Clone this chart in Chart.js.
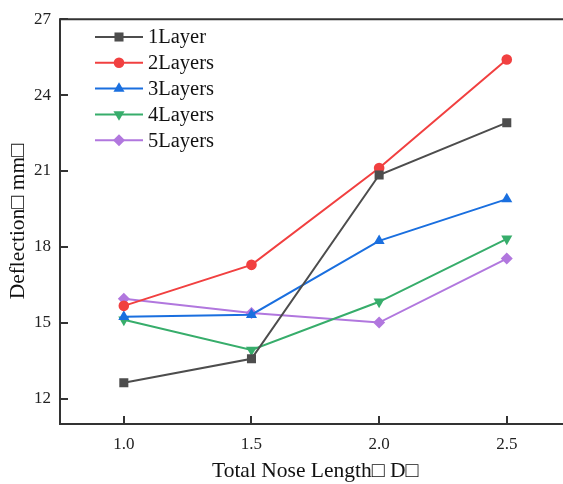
<!DOCTYPE html>
<html><head><meta charset="utf-8">
<script src="https://cdn.jsdelivr.net/npm/chart.js@4"></script>
<style>
html,body{margin:0;padding:0;background:#fff;overflow:hidden;}
#wrap{width:577px;height:484px;position:relative;}
canvas{display:block;}
</style></head><body>
<div id="wrap"><canvas id="c" width="577" height="484"></canvas></div>
<script>
const xValues = [1.0, 1.5, 2.0, 2.5];
const layer1 = [12.63, 13.58, 20.84, 22.91];
const layer2 = [15.67, 17.29, 21.12, 25.41];
const layer3 = [15.24, 15.32, 18.24, 19.89];
const layer4 = [15.12, 13.93, 15.83, 18.32];
const layer5 = [15.95, 15.39, 15.01, 17.54];
const seriesNames = ['1Layer', '2Layers', '3Layers', '4Layers', '5Layers'];
const xTicks = [1.0, 1.5, 2.0, 2.5];
const yTicks = [12, 15, 18, 21, 24, 27];
const xTitle = 'Total Nose Length\u25A1 D\u25A1';
const yTitle = 'Deflection\u25A1 mm\u25A1';

const colors = ['#4d4d4d', '#f14040', '#1a6fdf', '#37ad6b', '#b177de'];
const styles = [
  {pointStyle: 'rect', radius: 6.4, rotation: 0},
  {pointStyle: 'circle', radius: 5.3, rotation: 0},
  {pointStyle: 'triangle', radius: 6.4, rotation: 0},
  {pointStyle: 'triangle', radius: 6.4, rotation: 180},
  {pointStyle: 'rectRot', radius: 6, rotation: 0}
];
const allSeries = [layer1, layer2, layer3, layer4, layer5];
const serif = "'Liberation Serif', 'Times New Roman', serif";

const datasets = allSeries.map((vals, i) => ({
  label: seriesNames[i],
  data: vals.map((v, j) => ({x: xValues[j], y: v})),
  borderColor: colors[i],
  backgroundColor: colors[i],
  borderWidth: 2,
  pointStyle: styles[i].pointStyle,
  pointRadius: styles[i].radius,
  pointRotation: styles[i].rotation,
  pointBorderWidth: 0,
  pointHoverRadius: styles[i].radius,
  tension: 0,
  fill: false
}));

function drawMarker(ctx, st, x, y) {
  if (Chart.helpers && Chart.helpers.drawPoint) {
    Chart.helpers.drawPoint(ctx, {pointStyle: st.pointStyle, radius: st.radius, rotation: st.rotation, borderWidth: 0}, x, y);
    return;
  }
  ctx.beginPath();
  ctx.arc(x, y, st.radius, 0, Math.PI * 2);
  ctx.fill();
}

const framePlugin = {
  id: 'frame',
  afterDraw(chart) {
    const {ctx, chartArea: a, scales: {x, y}} = chart;
    ctx.save();
    ctx.strokeStyle = '#333';
    ctx.lineWidth = 2;
    ctx.beginPath();
    ctx.rect(a.left, a.top, a.right - a.left, a.bottom - a.top);
    ctx.stroke();
    ctx.beginPath();
    xTicks.forEach(v => {
      const px = Math.round(x.getPixelForValue(v));
      ctx.moveTo(px, a.bottom);
      ctx.lineTo(px, a.bottom - 8);
    });
    yTicks.forEach(v => {
      const py = Math.round(y.getPixelForValue(v));
      ctx.moveTo(a.left, py);
      ctx.lineTo(a.left + 8, py);
    });
    ctx.stroke();
    ctx.restore();

    ctx.save();
    ctx.font = '20.5px ' + serif;
    ctx.textBaseline = 'middle';
    ctx.textAlign = 'left';
    chart.data.datasets.forEach((ds, i) => {
      const yy = 37 + i * 25.8;
      ctx.strokeStyle = ds.borderColor;
      ctx.fillStyle = ds.backgroundColor;
      ctx.lineWidth = 2;
      ctx.beginPath();
      ctx.moveTo(95, yy);
      ctx.lineTo(143, yy);
      ctx.stroke();
      drawMarker(ctx, styles[i], 119, yy);
      ctx.fillStyle = '#111';
      ctx.fillText(ds.label, 148, yy + 1);
    });
    ctx.restore();
  }
};

new Chart(document.getElementById('c'), {
  type: 'line',
  data: {datasets},
  options: {
    responsive: false,
    animation: false,
    devicePixelRatio: 1,
    layout: {padding: {top: 18, right: 2, left: 0, bottom: 0}},
    plugins: {legend: {display: false}, tooltip: {enabled: false}},
    scales: {
      x: {
        type: 'linear',
        min: 0.75,
        max: 2.75,
        afterBuildTicks: s => { s.ticks = xTicks.map(v => ({value: v})); },
        afterFit: s => { s.height = 60; },
        grid: {display: false, drawTicks: false},
        border: {display: false},
        ticks: {
          font: {family: serif, size: 17},
          color: '#222',
          padding: 10,
          maxRotation: 0,
          callback: v => Number(v).toFixed(1)
        },
        title: {display: true, text: xTitle, font: {family: serif, size: 21.5}, color: '#111', padding: {top: 0, bottom: 0}}
      },
      y: {
        type: 'linear',
        min: 11,
        max: 27,
        afterBuildTicks: s => { s.ticks = yTicks.map(v => ({value: v})); },
        afterFit: s => { s.width = 60; },
        grid: {display: false, drawTicks: false},
        border: {display: false},
        ticks: {
          font: {family: serif, size: 17},
          color: '#222',
          padding: 9,
          callback: v => String(v)
        },
        title: {display: true, text: yTitle, font: {family: serif, size: 21.5}, color: '#111', padding: {top: 5, bottom: 0}}
      }
    }
  },
  plugins: [framePlugin]
});
</script>
</body></html>
